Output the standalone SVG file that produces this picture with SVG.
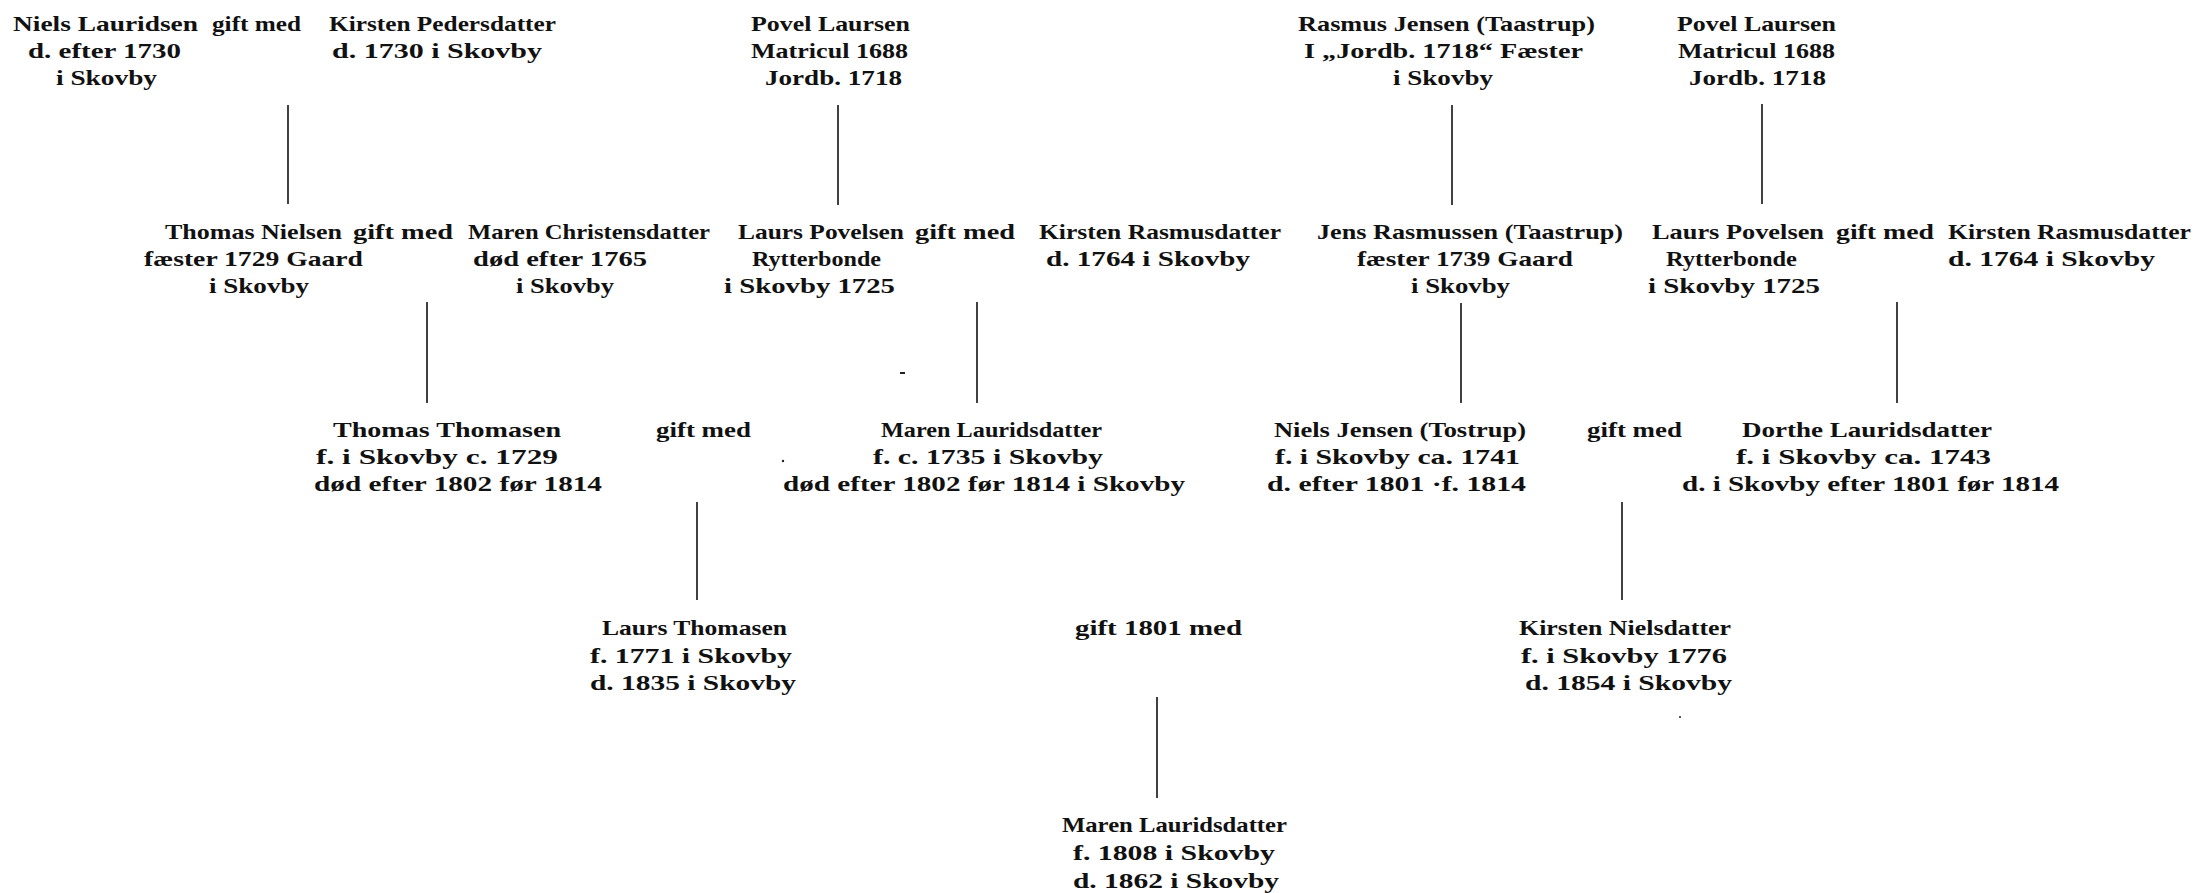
<svg xmlns="http://www.w3.org/2000/svg" width="2196" height="893" viewBox="0 0 2196 893">
<style>
text{font-family:"Liberation Serif","DejaVu Serif",serif;font-size:22px;font-weight:bold;fill:#111}
.c line{stroke:#111;stroke-width:1.6}
.sp{fill:#222}
</style>
<rect width="2196" height="893" fill="#fff"/>
<g id="connectors" class="c">
<line x1="288" y1="105" x2="288" y2="204"/>
<line x1="838" y1="105" x2="838" y2="205"/>
<line x1="1452" y1="105" x2="1452" y2="205"/>
<line x1="1762" y1="104" x2="1762" y2="204"/>
<line x1="427" y1="302" x2="427" y2="403"/>
<line x1="977" y1="302" x2="977" y2="403"/>
<line x1="1461" y1="303" x2="1461" y2="403"/>
<line x1="1897" y1="302" x2="1897" y2="403"/>
<line x1="697" y1="502" x2="697" y2="600"/>
<line x1="1622" y1="502" x2="1622" y2="600"/>
<line x1="1157" y1="697" x2="1157" y2="798"/>
</g>
<g id="niels-lauridsen">
<text x="13" y="31" textLength="185" lengthAdjust="spacingAndGlyphs">Niels Lauridsen</text>
<text x="28" y="58" textLength="153" lengthAdjust="spacingAndGlyphs">d. efter 1730</text>
<text x="56" y="85" textLength="101" lengthAdjust="spacingAndGlyphs">i Skovby</text>
</g>
<g id="m1"><text x="212" y="31" textLength="89" lengthAdjust="spacingAndGlyphs">gift med</text></g>
<g id="kirsten-pedersdatter">
<text x="329" y="31" textLength="227" lengthAdjust="spacingAndGlyphs">Kirsten Pedersdatter</text>
<text x="332" y="58" textLength="210" lengthAdjust="spacingAndGlyphs">d. 1730 i Skovby</text>
</g>
<g id="povel-laursen-1">
<text x="751" y="31" textLength="159" lengthAdjust="spacingAndGlyphs">Povel Laursen</text>
<text x="751" y="58" textLength="157" lengthAdjust="spacingAndGlyphs">Matricul 1688</text>
<text x="765" y="85" textLength="137" lengthAdjust="spacingAndGlyphs">Jordb. 1718</text>
</g>
<g id="rasmus-jensen">
<text x="1298" y="31" textLength="297" lengthAdjust="spacingAndGlyphs">Rasmus Jensen (Taastrup)</text>
<text x="1304" y="58" textLength="279" lengthAdjust="spacingAndGlyphs">I „Jordb. 1718“ Fæster</text>
<text x="1393" y="85" textLength="100" lengthAdjust="spacingAndGlyphs">i Skovby</text>
</g>
<g id="povel-laursen-2">
<text x="1677" y="31" textLength="159" lengthAdjust="spacingAndGlyphs">Povel Laursen</text>
<text x="1678" y="58" textLength="157" lengthAdjust="spacingAndGlyphs">Matricul 1688</text>
<text x="1689" y="85" textLength="137" lengthAdjust="spacingAndGlyphs">Jordb. 1718</text>
</g>
<g id="thomas-nielsen">
<text x="165" y="239" textLength="177" lengthAdjust="spacingAndGlyphs">Thomas Nielsen</text>
<text x="144" y="266" textLength="219" lengthAdjust="spacingAndGlyphs">fæster 1729 Gaard</text>
<text x="209" y="293" textLength="100" lengthAdjust="spacingAndGlyphs">i Skovby</text>
</g>
<g id="m2"><text x="353" y="239" textLength="100" lengthAdjust="spacingAndGlyphs">gift med</text></g>
<g id="maren-christensdatter">
<text x="468" y="239" textLength="242" lengthAdjust="spacingAndGlyphs">Maren Christensdatter</text>
<text x="473" y="266" textLength="174" lengthAdjust="spacingAndGlyphs">død efter 1765</text>
<text x="516" y="293" textLength="98" lengthAdjust="spacingAndGlyphs">i Skovby</text>
</g>
<g id="laurs-povelsen-1">
<text x="738" y="239" textLength="166" lengthAdjust="spacingAndGlyphs">Laurs Povelsen</text>
<text x="752" y="266" textLength="129" lengthAdjust="spacingAndGlyphs">Rytterbonde</text>
<text x="724" y="293" textLength="171" lengthAdjust="spacingAndGlyphs">i Skovby 1725</text>
</g>
<g id="m3"><text x="915" y="239" textLength="100" lengthAdjust="spacingAndGlyphs">gift med</text></g>
<g id="kirsten-rasmusdatter-1">
<text x="1039" y="239" textLength="242" lengthAdjust="spacingAndGlyphs">Kirsten Rasmusdatter</text>
<text x="1046" y="266" textLength="204" lengthAdjust="spacingAndGlyphs">d. 1764 i Skovby</text>
</g>
<g id="jens-rasmussen">
<text x="1317" y="239" textLength="306" lengthAdjust="spacingAndGlyphs">Jens Rasmussen (Taastrup)</text>
<text x="1357" y="266" textLength="216" lengthAdjust="spacingAndGlyphs">fæster 1739 Gaard</text>
<text x="1411" y="293" textLength="99" lengthAdjust="spacingAndGlyphs">i Skovby</text>
</g>
<g id="laurs-povelsen-2">
<text x="1652" y="239" textLength="172" lengthAdjust="spacingAndGlyphs">Laurs Povelsen</text>
<text x="1666" y="266" textLength="131" lengthAdjust="spacingAndGlyphs">Rytterbonde</text>
<text x="1648" y="293" textLength="172" lengthAdjust="spacingAndGlyphs">i Skovby 1725</text>
</g>
<g id="m4"><text x="1836" y="239" textLength="98" lengthAdjust="spacingAndGlyphs">gift med</text></g>
<g id="kirsten-rasmusdatter-2">
<text x="1948" y="239" textLength="243" lengthAdjust="spacingAndGlyphs">Kirsten Rasmusdatter</text>
<text x="1948" y="266" textLength="207" lengthAdjust="spacingAndGlyphs">d. 1764 i Skovby</text>
</g>
<g id="thomas-thomasen">
<text x="333" y="437" textLength="228" lengthAdjust="spacingAndGlyphs">Thomas Thomasen</text>
<text x="316" y="464" textLength="242" lengthAdjust="spacingAndGlyphs">f. i Skovby c. 1729</text>
<text x="314" y="491" textLength="288" lengthAdjust="spacingAndGlyphs">død efter 1802 før 1814</text>
</g>
<g id="m5"><text x="656" y="437" textLength="95" lengthAdjust="spacingAndGlyphs">gift med</text></g>
<g id="maren-lauridsdatter-1">
<text x="881" y="437" textLength="221" lengthAdjust="spacingAndGlyphs">Maren Lauridsdatter</text>
<text x="873" y="464" textLength="230" lengthAdjust="spacingAndGlyphs">f. c. 1735 i Skovby</text>
<text x="783" y="491" textLength="402" lengthAdjust="spacingAndGlyphs">død efter 1802 før 1814 i Skovby</text>
</g>
<g id="niels-jensen">
<text x="1274" y="437" textLength="252" lengthAdjust="spacingAndGlyphs">Niels Jensen (Tostrup)</text>
<text x="1275" y="464" textLength="245" lengthAdjust="spacingAndGlyphs">f. i Skovby ca. 1741</text>
<text x="1267" y="491" textLength="259" lengthAdjust="spacingAndGlyphs">d. efter 1801 ·f. 1814</text>
</g>
<g id="m6"><text x="1587" y="437" textLength="95" lengthAdjust="spacingAndGlyphs">gift med</text></g>
<g id="dorthe-lauridsdatter">
<text x="1742" y="437" textLength="250" lengthAdjust="spacingAndGlyphs">Dorthe Lauridsdatter</text>
<text x="1736" y="464" textLength="255" lengthAdjust="spacingAndGlyphs">f. i Skovby ca. 1743</text>
<text x="1682" y="491" textLength="377" lengthAdjust="spacingAndGlyphs">d. i Skovby efter 1801 før 1814</text>
</g>
<g id="laurs-thomasen">
<text x="602" y="635" textLength="185" lengthAdjust="spacingAndGlyphs">Laurs Thomasen</text>
<text x="590" y="663" textLength="202" lengthAdjust="spacingAndGlyphs">f. 1771 i Skovby</text>
<text x="590" y="690" textLength="206" lengthAdjust="spacingAndGlyphs">d. 1835 i Skovby</text>
</g>
<g id="m7"><text x="1075" y="635" textLength="167" lengthAdjust="spacingAndGlyphs">gift 1801 med</text></g>
<g id="kirsten-nielsdatter">
<text x="1519" y="635" textLength="212" lengthAdjust="spacingAndGlyphs">Kirsten Nielsdatter</text>
<text x="1521" y="663" textLength="206" lengthAdjust="spacingAndGlyphs">f. i Skovby 1776</text>
<text x="1525" y="690" textLength="207" lengthAdjust="spacingAndGlyphs">d. 1854 i Skovby</text>
</g>
<g id="maren-lauridsdatter-2">
<text x="1062" y="832" textLength="225" lengthAdjust="spacingAndGlyphs">Maren Lauridsdatter</text>
<text x="1073" y="860" textLength="202" lengthAdjust="spacingAndGlyphs">f. 1808 i Skovby</text>
<text x="1073" y="888" textLength="206" lengthAdjust="spacingAndGlyphs">d. 1862 i Skovby</text>
</g>
<g id="specks">
<rect class="sp" x="900" y="372" width="5" height="2"/>
<circle class="sp" cx="783" cy="461" r="1.2"/>
<circle class="sp" cx="1680" cy="717" r="1"/>
</g>
</svg>
